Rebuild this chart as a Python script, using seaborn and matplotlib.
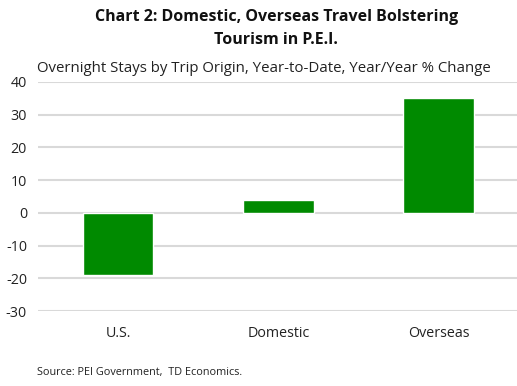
import matplotlib
matplotlib.use("Agg")
import matplotlib.pyplot as plt
import pandas as pd
import seaborn as sns

origins = ["U.S.", "Domestic", "Overseas"]
pct_change = [-19, 4, 35]
y_ticks = [40, 30, 20, 10, 0, -10, -20, -30]

df = pd.DataFrame({"origin": origins, "change": pct_change})

sns.set_style("white")
plt.rcParams["font.family"] = ["Open Sans", "DejaVu Sans"]
plt.rcParams["axes.unicode_minus"] = False

fig = plt.figure(figsize=(5.17, 3.86), dpi=100)
ax = fig.add_axes([0.0735, 0.194, 0.93, 0.594])

sns.barplot(data=df, x="origin", y="change", color="#008a00", saturation=1,
            width=0.44, ax=ax, zorder=3)

ax.set_ylim(-30, 40)
ax.set_xlim(-0.5, 2.5)
ax.set_yticks(y_ticks)
ax.yaxis.grid(True, color="#d9d9d9", linewidth=1.5, zorder=0)
ax.set_axisbelow(True)
for s in ax.spines.values():
    s.set_visible(False)
ax.tick_params(axis="both", length=0, labelsize=10.3, colors="#222222")
ax.tick_params(axis="x", pad=11)
ax.tick_params(axis="y", pad=8)
ax.set_xlabel("")
ax.set_ylabel("")

fig.text(0.534, 0.926, "Chart 2: Domestic, Overseas Travel Bolstering\nTourism in P.E.I.",
         ha="center", va="center", fontsize=11.5, fontweight="bold", linespacing=1.55,
         color="#111111")
fig.text(0.072, 0.822, "Overnight Stays by Trip Origin, Year-to-Date, Year/Year % Change",
         ha="left", va="center", fontsize=10.8, color="#222222")
fig.text(0.072, 0.034, "Source: PEI Government,  TD Economics.",
         ha="left", va="center", fontsize=7.8, color="#222222")

fig.savefig("out.png", dpi=100)
